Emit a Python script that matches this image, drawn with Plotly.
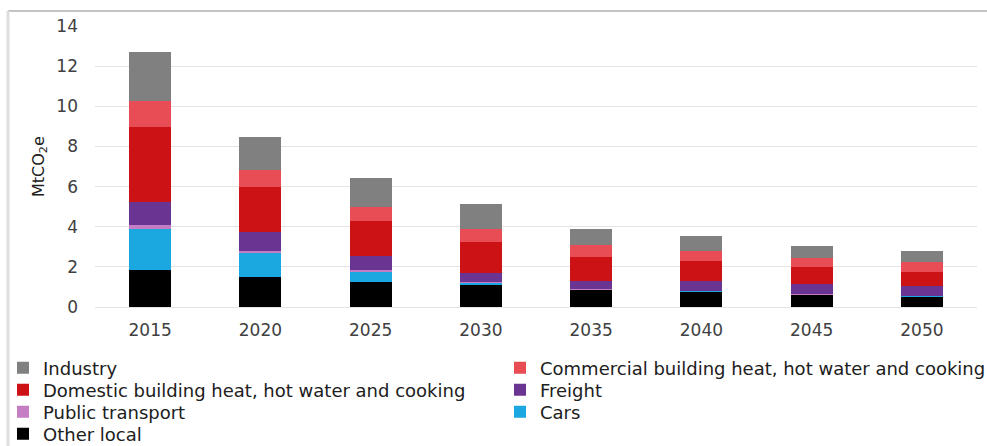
import plotly.graph_objects as go

years = ["2015", "2020", "2025", "2030", "2035", "2040", "2045", "2050"]

other_local = [1.84, 1.51, 1.25, 1.08, 0.87, 0.78, 0.61, 0.53]
cars = [2.03, 1.16, 0.53, 0.12, 0.02, 0.02, 0.02, 0.02]
public_transport = [0.21, 0.13, 0.05, 0.03, 0.02, 0.02, 0.02, 0.02]
freight = [1.17, 0.92, 0.70, 0.47, 0.41, 0.46, 0.50, 0.46]
domestic = [3.70, 2.27, 1.75, 1.54, 1.18, 0.99, 0.83, 0.73]
commercial = [1.33, 0.83, 0.72, 0.67, 0.58, 0.54, 0.45, 0.48]
industry = [2.44, 1.63, 1.44, 1.20, 0.83, 0.74, 0.62, 0.57]

W, H = 987, 446
L, R, T, B = 95, 10, 26, 139
PW, PH = W - L - R, H - T - B

# (name, values, colour, legend id, legend text-left px, legend row centre px)
series = [
    ("Other local", other_local, "#000000", "legend7", 43, 434),
    ("Cars", cars, "#1ba8e0", "legend6", 540, 412),
    ("Public transport", public_transport, "#c47cc2", "legend5", 43, 412),
    ("Freight", freight, "#6a3592", "legend4", 540, 390),
    ("Domestic building heat, hot water and cooking", domestic, "#cc1214", "legend3", 43, 390),
    ("Commercial building heat, hot water and cooking", commercial, "#e84c54", "legend2", 540, 368),
    ("Industry", industry, "#808080", "legend", 43, 368),
]

font = "DejaVu Sans, Arial, sans-serif"

fig = go.Figure()
legends = {}
for name, vals, col, lg, tx, ty in series:
    fig.add_trace(go.Bar(x=years, y=vals, name=name, marker_color=col,
                         marker_line_width=0, legend=lg, showlegend=True))
    legends[lg] = dict(xref="container", yref="container",
                       x=max(0.0, (tx - 40) / W), y=1 - ty / H,
                       xanchor="left", yanchor="middle",
                       font=dict(family=font, size=18, color="#202020"),
                       bgcolor="rgba(0,0,0,0)", itemwidth=30)

def px_x(p):
    return (p - L) / PW

def px_y(p):
    return (H - B - p) / PH

fig.update_layout(
    width=W, height=H,
    showlegend=True,
    margin=dict(l=L, r=R, t=T, b=B, autoexpand=False),
    barmode="stack",
    bargap=0.62,
    plot_bgcolor="white",
    paper_bgcolor="white",
    font=dict(family=font, size=17, color="#404040"),
    xaxis=dict(showgrid=False, showline=False, ticks="", ticklabelstandoff=11,
               tickangle=0,
               tickfont=dict(family=font, size=17, color="#404040")),
    yaxis=dict(range=[0, 14], dtick=2, showgrid=True, gridcolor="#e4e4e4",
               gridwidth=1, zeroline=True, zerolinecolor="#e4e4e4", zerolinewidth=1,
               ticks="", ticklabelstandoff=16,
               tickfont=dict(family=font, size=17, color="#404040")),
    annotations=[
        dict(text="MtCO<sub>2</sub>e", textangle=-90, showarrow=False,
             xref="paper", yref="paper", x=px_x(39), y=px_y(167),
             xanchor="center", yanchor="middle",
             font=dict(family=font, size=16, color="#202020")),
    ],
    shapes=[
        dict(type="line", xref="paper", yref="paper",
             x0=px_x(8), x1=px_x(987), y0=px_y(11), y1=px_y(11),
             line=dict(color="#c4c4c4", width=2)),
        dict(type="line", xref="paper", yref="paper",
             x0=px_x(8), x1=px_x(8), y0=px_y(11), y1=px_y(446),
             line=dict(color="#dedede", width=3)),
    ],
    **legends,
)

fig.write_html("out.html", config={"displayModeBar": False},
               post_script="document.body.style.margin='0';")
